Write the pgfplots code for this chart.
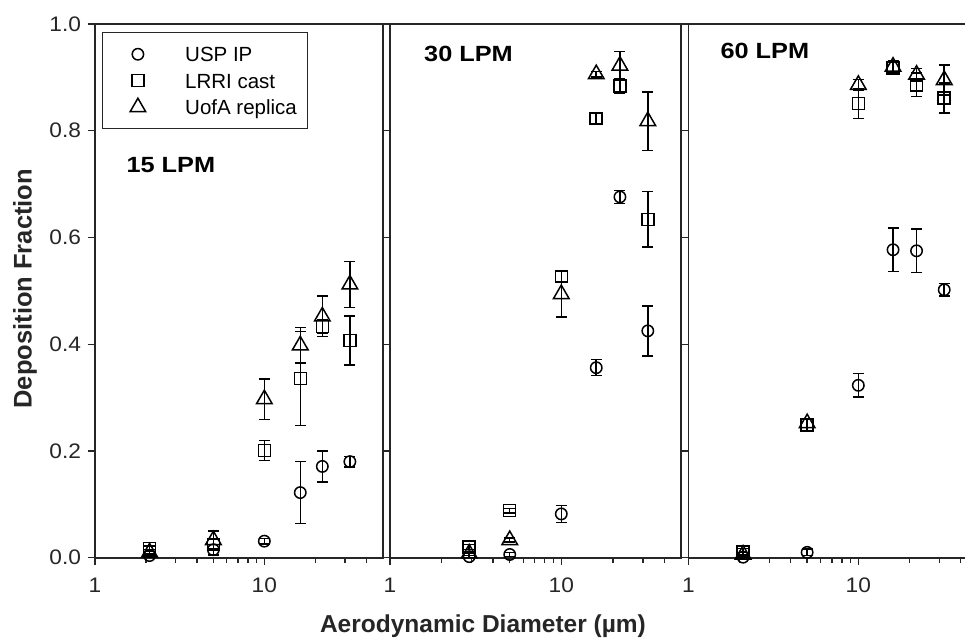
\documentclass[border=0pt]{standalone}
\usepackage{fontspec}
\setmainfont{Liberation Sans}
\newfontfamily\tickfont[FakeStretch=1.08]{Liberation Sans}
\newfontfamily\panelfont[FakeStretch=1.15]{Liberation Sans}
\usepackage{pgfplots}
\pgfplotsset{compat=1.18}
\usepackage{pgfplotstable}

% Deposition fraction vs. aerodynamic diameter; value and +/- error per device
\pgfplotstableread{
x    usp    uspe   lrri   lrrie  uofa   uofae
2.1  0.004  0.003  0.017  0.005  0.010  0.005
5    0.015  0.010  0.025  0.010  0.033  0.017
10   0.031  0.005  0.201  0.019  0.297  0.038
16.3 0.122  0.058  0.336  0.088  0.398  0.033
22   0.171  0.029  0.433  0.012  0.452  0.038
32   0.180  0.010  0.407  0.046  0.512  0.043
}\lpmfifteen
\pgfplotstableread{
x    usp    uspe   lrri   lrrie  uofa   uofae
2.9  0.002  0.002  0.020  0.005  0.008  0.004
5    0.006  0.004  0.088  0.004  0.033  0.004
10   0.082  0.016  0.527  0.010  0.494  0.043
16   0.356  0.015  0.823  0.010  0.906  0.005
22   0.676  0.012  0.884  0.013  0.922  0.026
32   0.425  0.047  0.634  0.052  0.818  0.055
}\lpmthirty
\pgfplotstableread{
x    usp    uspe   lrri   lrrie  uofa   uofae
2.1  0.001  0.003  0.011  0.006  0.006  0.004
5    0.010  0.006  0.249  0.012  0.252  0.008
10   0.323  0.022  0.851  0.028  0.886  0.010
16   0.577  0.041  0.918  0.012  0.920  0.012
22   0.575  0.041  0.886  0.022  0.905  0.012
32   0.502  0.012  0.861  0.028  0.895  0.028
}\lpmsixty

\definecolor{axisgray}{gray}{0.15}

\tikzset{lpmlabel/.style={anchor=base west, font=\panelfont\bfseries\fontsize{22}{26}\selectfont}}

% legend symbol: a single open mark, no connecting line
\pgfplotsset{
  legend image code/.code={
    \path[draw=none] (0pt,0pt) -- (38pt,0pt);
    \draw[#1, only marks] plot coordinates {(13pt,0pt)};
  },
}

\pgfplotsset{
  every axis/.append style={
    xmode=log, xmin=1, xmax=50, ymin=0, ymax=1,
    scale only axis, height=533.7pt,
    axis line style={line width=1.6pt, axisgray},
    tick style={line width=1.4pt, axisgray},
    tick align=outside, tick pos=left,
    major tick length=7.5pt, minor tick length=5.3pt,
    xtick={1,10}, xticklabels={1,10},
    minor xtick={2,3,4,5,6,7,8,9,20,30,40},
    ytick={0,0.2,0.4,0.6,0.8,1.0},
    yticklabel style={/pgf/number format/fixed,
      /pgf/number format/fixed zerofill,
      /pgf/number format/precision=1, xshift=-3pt},
    xticklabel style={yshift=-9pt},
    tick label style={font=\tickfont\fontsize{21}{25}\selectfont, text=axisgray},
    /pgf/number format/assume math mode=true,
    clip=false,
  },
  devmark/.style={only marks, black,
    mark options={line width=1.5pt, fill=none},
    error bars/y dir=both, error bars/y explicit,
    error bars/error bar style={line width=1.5pt, black},
    error bars/error mark options={rotate=90, mark size=5.5pt, line width=1.5pt, black}},
  usp/.style={devmark, mark=o, mark size=5.7pt},
  lrri/.style={devmark, mark=square, mark size=6pt},
  uofa/.style={devmark, mark=triangle, mark size=9pt},
}

\begin{document}
\begin{tikzpicture}
% 15 LPM
\begin{axis}[at={(0pt,0pt)}, anchor=south west, width=287.7pt,
  legend style={at={(axis description cs:0.0254,0.984)}, anchor=north west,
    draw=none, fill=none, inner xsep=22.4pt, inner ysep=11pt,
    column sep=22.3pt, row sep=5.5pt,
    nodes={inner sep=0pt, text height=18pt, text depth=3pt},
    font=\fontsize{20.5}{24}\selectfont},
  legend cell align=left,
]
\draw[axisgray, line width=1.4pt] (axis description cs:0.0254,0.8046)
  rectangle (axis description cs:0.7379,0.9845);
\addplot[usp]  table[x=x, y=usp,  y error=uspe]  {\lpmfifteen};
\addplot[lrri] table[x=x, y=lrri, y error=lrrie] {\lpmfifteen};
\addplot[uofa] table[x=x, y=uofa, y error=uofae] {\lpmfifteen};
\legend{USP IP, LRRI cast, UofA replica}
\node[lpmlabel] at (axis description cs:0.0973,0.7214) {15 LPM};
\end{axis}
% 30 LPM
\begin{axis}[at={(295pt,0pt)}, anchor=south west, width=291pt,
  yticklabels={}]
\addplot[usp]  table[x=x, y=usp,  y error=uspe]  {\lpmthirty};
\addplot[lrri] table[x=x, y=lrri, y error=lrrie] {\lpmthirty};
\addplot[uofa] table[x=x, y=uofa, y error=uofae] {\lpmthirty};
\node[lpmlabel] at (axis description cs:0.1055,0.9288) {30 LPM};
\end{axis}
% 60 LPM: open on the right
\begin{axis}[at={(593.3pt,0pt)}, anchor=south west, width=276.7pt,
  xmax=42.4, yticklabels={}, axis line style={draw=none}]
\draw[line width=1.6pt, axisgray] (rel axis cs:1,0) -- (rel axis cs:0,0)
  -- (rel axis cs:0,1) -- (rel axis cs:1,1);
\addplot[usp]  table[x=x, y=usp,  y error=uspe]  {\lpmsixty};
\addplot[lrri] table[x=x, y=lrri, y error=lrrie] {\lpmsixty};
\addplot[uofa] table[x=x, y=uofa, y error=uofae] {\lpmsixty};
\node[lpmlabel] at (axis description cs:0.1037,0.9357) {60 LPM};
\end{axis}
% shared axis titles
\node[rotate=90, font=\bfseries\fontsize{25.5}{30}\selectfont, text=axisgray]
  at (-70pt,269pt) {Deposition Fraction};
\node[font=\bfseries\fontsize{24.5}{29}\selectfont, text=axisgray]
  at (388pt,-68pt) {Aerodynamic Diameter (µm)};
\pgfresetboundingbox
\path (-95pt,-82.3pt) rectangle (870pt,557.7pt);
\end{tikzpicture}
\end{document}
